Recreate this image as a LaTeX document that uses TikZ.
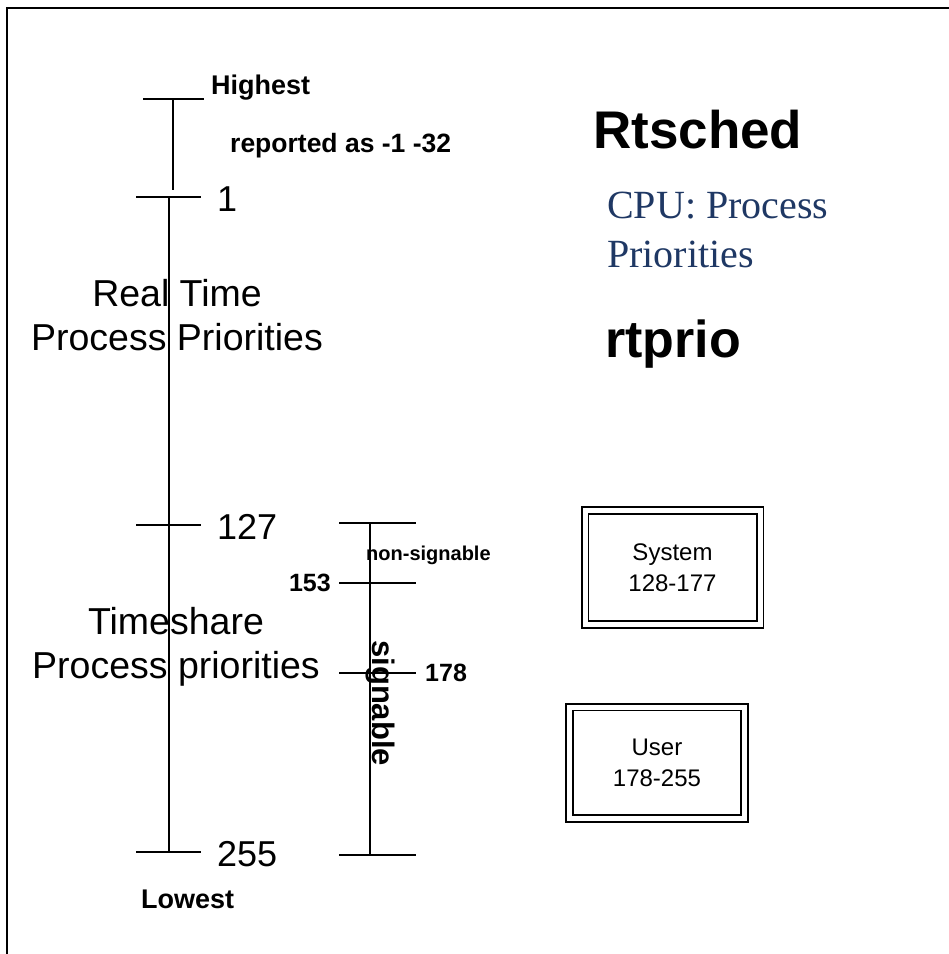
\documentclass[tikz,border=0pt]{standalone}
\usepackage{fontspec}
\setmainfont{Liberation Sans}
\newfontfamily\timesfont{Liberation Serif}
\usetikzlibrary{positioning}
\definecolor{cpublue}{RGB}{31,56,100}
\begin{document}
\begin{tikzpicture}[x=1pt,y=-1pt]
\def\lw{1.6pt}
\def\fs#1{\fontsize{#1}{#1}\selectfont}
\tikzset{
	scale line/.style={draw,line width=\lw},
	frame line/.style={draw,line width=2pt},
	tick label/.style={anchor=base west,inner sep=0pt,font=\fs{36}},
	bold label/.style={inner sep=0pt,font=\bfseries\fs{25}},
	side text/.style={anchor=base,inner sep=0pt,align=center,font=\fontsize{37.5}{43.5}\selectfont},
	range box/.style={
		draw,
		line width=\lw,
		double,
		double distance=5pt,
		minimum width=175pt,
		align=center,
		font=\fontsize{24}{31}\selectfont
	}
}
\useasboundingbox (0,0) rectangle (949,954);
\coordinate (fl) at (7,954);
\coordinate (fc) at (7,8);
\coordinate (fr) at (949,8);
\draw[frame line] (fl) -- (fc) -- (fr);
\coordinate (ha) at (143,99);
\coordinate (hb) at (204,99);
\coordinate (hm) at (173,99);
\coordinate (he) at (173,190);
\draw[scale line] (ha) -- (hb);
\draw[scale line] (hm) -- (he);
\foreach \yy/\lab in {197/1,525/127,852/255}
{
	\coordinate (ma\lab) at (136,\yy);
	\coordinate (mb\lab) at (201,\yy);
	\draw[scale line] (ma\lab) -- (mb\lab);
	\node[tick label] (n\lab) at (217,{\yy+14}) {\lab};
}
\coordinate (axtop) at (169,197);
\coordinate (axbot) at (169,852);
\draw[scale line] (axtop) -- (axbot);
\foreach \yy/\lab in {523/a,583/153,673/178,855/b}
{
	\coordinate (sa\lab) at (339,\yy);
	\coordinate (sb\lab) at (416,\yy);
	\draw[scale line] (sa\lab) -- (sb\lab);
}
\coordinate (stop) at (370,523);
\coordinate (sbot) at (370,855);
\draw[scale line] (stop) -- (sbot);
\node[bold label,font=\bfseries\fs{27},anchor=base west] (highest) at (211,94) {Highest};
\node[bold label,font=\bfseries\fs{26.5},anchor=base west] (reported) at (230,152) {reported as -1 -32};
\node[bold label,font=\bfseries\fs{27},anchor=base west] (lowest) at (141,908) {Lowest};
\node[bold label,left=8pt of sa153] (l153) {153};
\node[bold label,right=9pt of sb178] (l178) {178};
\node[bold label,font=\bfseries\fs{20},anchor=base west] (nonsig) at (366,560) {non-signable};
\node[bold label,font=\bfseries\fs{31},anchor=base west,rotate=-90] (sig) at (372,640) {signable};
\node[side text] (realtime) at (177,350) {Real Time\\Process Priorities};
\node[side text] (timeshare) at (176,678) {Timeshare\\Process priorities};
\node[inner sep=0pt,anchor=base west,font=\bfseries\fs{53}] (rtsched) at (593,148) {Rtsched};
\node[inner sep=0pt,anchor=base west,align=left,text=cpublue,font=\timesfont\fontsize{40}{49}\selectfont] (cpu) at (607,267) {CPU: Process\\Priorities};
\node[inner sep=0pt,anchor=base west,font=\bfseries\fs{52}] (rtprio) at (605,357) {rtprio};
\node[range box,minimum height=114pt] (system) at (672.5,567.5) {System\\128-177};
\node[range box,minimum height=111.5pt] (user) at (657,762.75) {User\\178-255};
\end{tikzpicture}
\end{document}
